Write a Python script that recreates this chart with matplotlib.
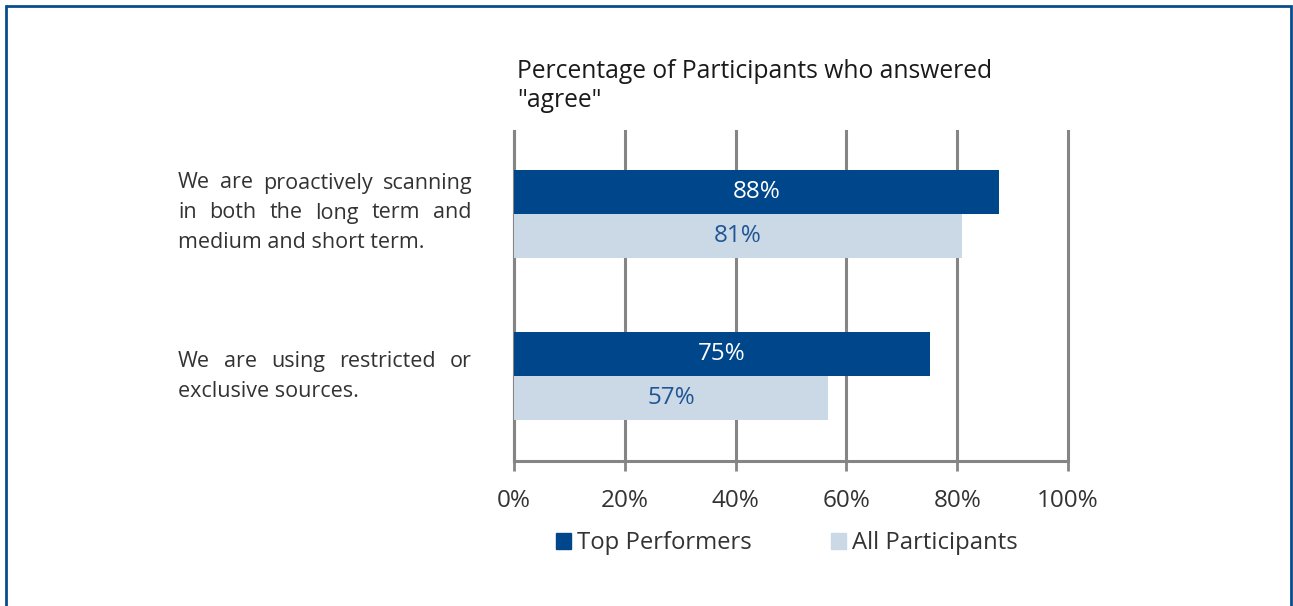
import matplotlib.pyplot as plt
from matplotlib.patches import Patch, Rectangle

plt.rcParams['font.family'] = ['Open Sans', 'DejaVu Sans']

# Data
categories = ["We are proactively scanning\nin both the long term and\nmedium and short term.",
              "We are using restricted or\nexclusive sources."]
top_performers = [87.6, 75.1]
all_participants = [80.8, 56.7]
series_names = ["Top Performers", "All Participants"]
xticks = [0, 20, 40, 60, 80, 100]

dark_blue = '#00468B'
light_blue = '#CBD9E6'
grid_gray = '#858585'
text_gray = '#333333'

W, H = 1293, 606
fig = plt.figure(figsize=(W / 100, H / 100), dpi=100)
ax = fig.add_axes([514 / W, 1 - 461 / H, 554 / W, 330 / H])

ypos = [0, 1]
h = 0.27
ax.barh([y - h / 2 for y in ypos], top_performers, height=h, color=dark_blue, zorder=3)
ax.barh([y + h / 2 for y in ypos], all_participants, height=h, color=light_blue, zorder=3)

# value labels
for y, v in zip(ypos, top_performers):
    ax.text(v / 2, y - h / 2, f"{round(v)}%", ha='center', va='center',
            color='white', fontsize=17.5, zorder=4)
for y, v in zip(ypos, all_participants):
    ax.text(v / 2, y + h / 2, f"{round(v)}%", ha='center', va='center',
            color='#1F5596', fontsize=17.5, zorder=4)

ax.set_xlim(0, 100)
ax.set_ylim(1.525, -0.512)
ax.set_xticks(xticks)
ax.set_xticklabels([f"{t}%" for t in xticks], fontsize=17.5, color=text_gray)
ax.set_yticks([])
ax.tick_params(axis='x', length=7, width=2, color=grid_gray, pad=13)
ax.grid(axis='x', color=grid_gray, linewidth=2.2, zorder=0)
for gl in ax.get_xgridlines():
    gl.set_clip_on(False)
for s in ['top', 'right']:
    ax.spines[s].set_visible(False)
for s in ['left', 'bottom']:
    ax.spines[s].set_color(grid_gray)
    ax.spines[s].set_linewidth(2.2)

# category labels, justified between x=178 and x=472 px
renderer = fig.canvas.get_renderer()
left_px, right_px = 178, 472
line_gap = 30
centers = [213, 376.5]
for lab, cy in zip(categories, centers):
    lines = lab.split("\n")
    y0 = cy - line_gap * (len(lines) - 1) / 2
    for i, line in enumerate(lines):
        ly = 1 - (y0 + i * line_gap) / H
        words = line.split()
        if i == len(lines) - 1 or len(words) < 2:
            fig.text(left_px / W, ly, line, ha='left', va='center',
                     fontsize=15.5, color=text_gray)
            continue
        texts = [fig.text(0, ly, w_, ha='left', va='center', fontsize=15.5, color=text_gray)
                 for w_ in words]
        widths = [t.get_window_extent(renderer).width for t in texts]
        gap = (right_px - left_px - sum(widths)) / (len(words) - 1)
        x = left_px
        for t, wd in zip(texts, widths):
            t.set_x(x / W)
            x += wd + gap

# title
fig.text(517 / W, 1 - 86 / H, "Percentage of Participants who answered\n\"agree\"",
         ha='left', va='center', fontsize=17.7, color='#1A1A1A', linespacing=1.25)

# legend
handles = [Patch(color=dark_blue), Patch(color=light_blue)]
fig.legend(handles, series_names, loc='center', bbox_to_anchor=(787 / W, 1 - 543 / H),
           ncol=2, frameon=False, fontsize=17.2, handlelength=0.65, handleheight=0.65,
           handletextpad=0.25, columnspacing=3.3, labelcolor=text_gray)

# blue border around figure
fig.patches.append(Rectangle((6 / W, -0.01), 1285 / W, 1 - 6 / H + 0.01,
                             transform=fig.transFigure, fill=False,
                             edgecolor='#0A4D8C', linewidth=2))

fig.savefig('out.png', dpi=100)
